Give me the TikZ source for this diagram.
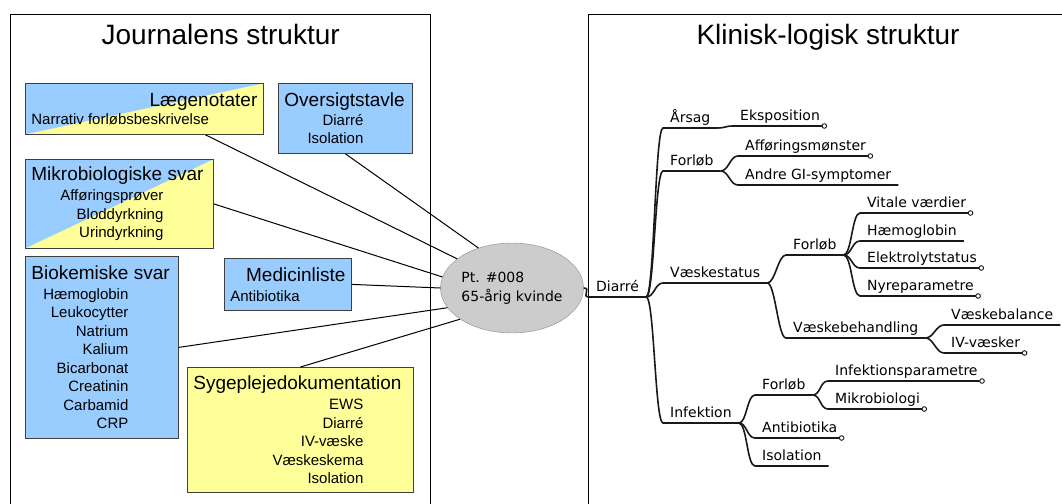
\documentclass[tikz,border=0pt]{standalone}
\usepackage{fontspec}
\setmainfont{Liberation Sans}
\newfontfamily\mmfont{DejaVu Sans}
\usepackage{xcolor}
\usepackage{tikz}
\usetikzlibrary{shapes,arrows.meta,positioning}

\definecolor{boxblue}{RGB}{153,204,255}
\definecolor{boxyellow}{RGB}{255,255,153}
\newcommand{\boxtitle}{\fontsize{19}{22}\selectfont}

\begin{document}
\begin{tikzpicture}[x=1pt, y=-1pt,
	box/.style={rectangle, draw=black!75, line width=0.8pt, anchor=north west, align=left, inner xsep=6pt, inner ysep=0pt, font=\fontsize{15}{18.5}\selectfont},
	bluebox/.style={box, fill=boxblue},
	yellowbox/.style={box, fill=boxyellow},
	splitbox/.style={box, fill=boxblue, path picture={\fill[boxyellow] (path picture bounding box.south west) -- (path picture bounding box.north east) -- (path picture bounding box.south east) -- cycle;}},
	link/.style={line width=1pt},
	mm/.style={anchor=south west, font=\mmfont\fontsize{14}{17}\selectfont, inner xsep=7pt, inner ysep=1.5pt, text depth=3.5pt},
	branch/.style={line width=1.6pt, black!90},
	leaf/.style={branch, -{Circle[open, length=5.5pt, line width=0.9pt]}}]
				\useasboundingbox (0,0) rectangle (1062,503);
				\clip (0,0) rectangle (1062,503);
				
				% two frames
				\draw[line width=0.8pt] (10.7,14) rectangle (430.7,530);
				\draw[line width=0.8pt] (588,14) rectangle (1090,530);
				
				\node[font=\fontsize{28}{32}\selectfont, anchor=base] (jtitle) at (220.7,45) {Journalens struktur};
				\node[font=\fontsize{28}{32}\selectfont, anchor=base] (ktitle) at (828,45) {Klinisk-logisk struktur};
				
				% journal boxes
				\node[splitbox, minimum width=238pt, minimum height=51pt] (laege) at (25,83) {\makebox[226pt][r]{\boxtitle Lægenotater}\\Narrativ forløbsbeskrivelse};
				\node[bluebox, minimum width=134pt, minimum height=70pt] (oversigt) at (278,83) {\makebox[122pt][l]{\boxtitle Oversigtstavle}\\\makebox[79pt][r]{Diarré}\\\makebox[79pt][r]{Isolation}};
				\node[splitbox, minimum width=188pt, minimum height=89pt] (mikro) at (25,159) {\makebox[176pt][l]{\boxtitle Mikrobiologiske svar}\\[1.5pt]\makebox[132pt][r]{Afføringsprøver}\\\makebox[132pt][r]{Bloddyrkning}\\\makebox[132pt][r]{Urindyrkning}};
				\node[bluebox, minimum width=153pt, minimum height=182pt] (biokemi) at (25,256) {\makebox[141pt][l]{\boxtitle Biokemiske svar}\\[1.5pt]\makebox[97pt][r]{Hæmoglobin}\\\makebox[97pt][r]{Leukocytter}\\\makebox[97pt][r]{Natrium}\\\makebox[97pt][r]{Kalium}\\\makebox[97pt][r]{Bicarbonat}\\\makebox[97pt][r]{Creatinin}\\\makebox[97pt][r]{Carbamid}\\\makebox[97pt][r]{CRP}};
				\node[bluebox, minimum width=127pt, minimum height=52pt] (medicin) at (224,258) {\makebox[115pt][r]{\boxtitle Medicinliste}\\[1.5pt]Antibiotika};
				\node[yellowbox, minimum width=226pt, minimum height=125pt] (sygepleje) at (187,367) {\makebox[214pt][l]{\boxtitle Sygeplejedokumentation}\\[1.5pt]\makebox[170pt][r]{EWS}\\\makebox[170pt][r]{Diarré}\\\makebox[170pt][r]{IV-væske}\\\makebox[170pt][r]{Væskeskema}\\\makebox[170pt][r]{Isolation}};
				
				\node[ellipse, draw=black!45, fill=black!20, minimum width=124pt, minimum height=90pt, inner sep=0pt, align=left, font=\mmfont\fontsize{14}{19}\selectfont] (patient) at (512,288) {Pt. \#008\\65-årig kvinde};
				
				\draw[link] (oversigt.south) -- (patient.130);
				\draw[link] (laege.-23) -- (patient.152);
				\draw[link] (mikro.east) -- (patient.171);
				\draw[link] (medicin.east) -- (patient.180);
				\draw[link] (biokemi.east) -- (patient.197);
				\draw[link] (sygepleje.north) -- (patient.211);
				
				% mind map
				\node[mm] (diarre) at (589,297) {Diarré};
				\node[mm] (aarsag) at (663,128) {Årsag};
				\node[mm] (forloebA) at (663,171) {Forløb};
				\node[mm] (vaeske) at (663,283) {Væskestatus};
				\node[mm] (infektion) at (663,423) {Infektion};
				\node[mm] (ekspo) at (733,126) {Eksposition};
				\node[mm] (affoer) at (738,156) {Afføringsmønster};
				\node[mm] (andre) at (738,185) {Andre GI-symptomer};
				\node[mm] (forloebB) at (786,255) {Forløb};
				\node[mm] (vbehand) at (786,338) {Væskebehandling};
				\node[mm] (vitale) at (860,213) {Vitale værdier};
				\node[mm] (haemo) at (860,241) {Hæmoglobin};
				\node[mm] (elektro) at (860,268) {Elektrolytstatus};
				\node[mm] (nyre) at (860,296) {Nyreparametre};
				\node[mm] (vbalance) at (944,325) {Væskebalance};
				\node[mm] (ivvaesker) at (944,353) {IV-væsker};
				\node[mm] (forloebC) at (755,395) {Forløb};
				\node[mm] (antibio) at (755,438) {Antibiotika};
				\node[mm] (isolation) at (755,466) {Isolation};
				\node[mm] (infpar) at (828,381) {Infektionsparametre};
				\node[mm] (mikrobio) at (828,409) {Mikrobiologi};
				
				\draw[branch] (patient.east) .. controls +(8,0) and +(-8,0) .. (diarre.south west) -- (diarre.south east);
				\draw[branch] (diarre.south east) .. controls +(8,0) and +(-8,0) .. (aarsag.south west) -- (aarsag.south east);
				\draw[branch] (diarre.south east) .. controls +(8,0) and +(-8,0) .. (forloebA.south west) -- (forloebA.south east);
				\draw[branch] (diarre.south east) .. controls +(8,0) and +(-8,0) .. (vaeske.south west) -- (vaeske.south east);
				\draw[branch] (diarre.south east) .. controls +(8,0) and +(-8,0) .. (infektion.south west) -- (infektion.south east);
				\draw[leaf] (aarsag.south east) .. controls +(8,0) and +(-8,0) .. (ekspo.south west) -- (ekspo.south east);
				\draw[leaf] (forloebA.south east) .. controls +(8,0) and +(-8,0) .. (affoer.south west) -- (affoer.south east);
				\draw[branch] (forloebA.south east) .. controls +(8,0) and +(-8,0) .. (andre.south west) -- (andre.south east);
				\draw[branch] (vaeske.south east) .. controls +(8,0) and +(-8,0) .. (forloebB.south west) -- (forloebB.south east);
				\draw[branch] (vaeske.south east) .. controls +(8,0) and +(-8,0) .. (vbehand.south west) -- (vbehand.south east);
				\draw[leaf] (forloebB.south east) .. controls +(8,0) and +(-8,0) .. (vitale.south west) -- (vitale.south east);
				\draw[branch] (forloebB.south east) .. controls +(8,0) and +(-8,0) .. (haemo.south west) -- (haemo.south east);
				\draw[leaf] (forloebB.south east) .. controls +(8,0) and +(-8,0) .. (elektro.south west) -- (elektro.south east);
				\draw[leaf] (forloebB.south east) .. controls +(8,0) and +(-8,0) .. (nyre.south west) -- (nyre.south east);
				\draw[branch] (vbehand.south east) .. controls +(8,0) and +(-8,0) .. (vbalance.south west) -- (vbalance.south east);
				\draw[leaf] (vbehand.south east) .. controls +(8,0) and +(-8,0) .. (ivvaesker.south west) -- (ivvaesker.south east);
				\draw[branch] (infektion.south east) .. controls +(8,0) and +(-8,0) .. (forloebC.south west) -- (forloebC.south east);
				\draw[leaf] (infektion.south east) .. controls +(8,0) and +(-8,0) .. (antibio.south west) -- (antibio.south east);
				\draw[branch] (infektion.south east) .. controls +(8,0) and +(-8,0) .. (isolation.south west) -- (isolation.south east);
				\draw[leaf] (forloebC.south east) .. controls +(8,0) and +(-8,0) .. (infpar.south west) -- (infpar.south east);
				\draw[leaf] (forloebC.south east) .. controls +(8,0) and +(-8,0) .. (mikrobio.south west) -- (mikrobio.south east);
			\end{tikzpicture}
\end{document}
